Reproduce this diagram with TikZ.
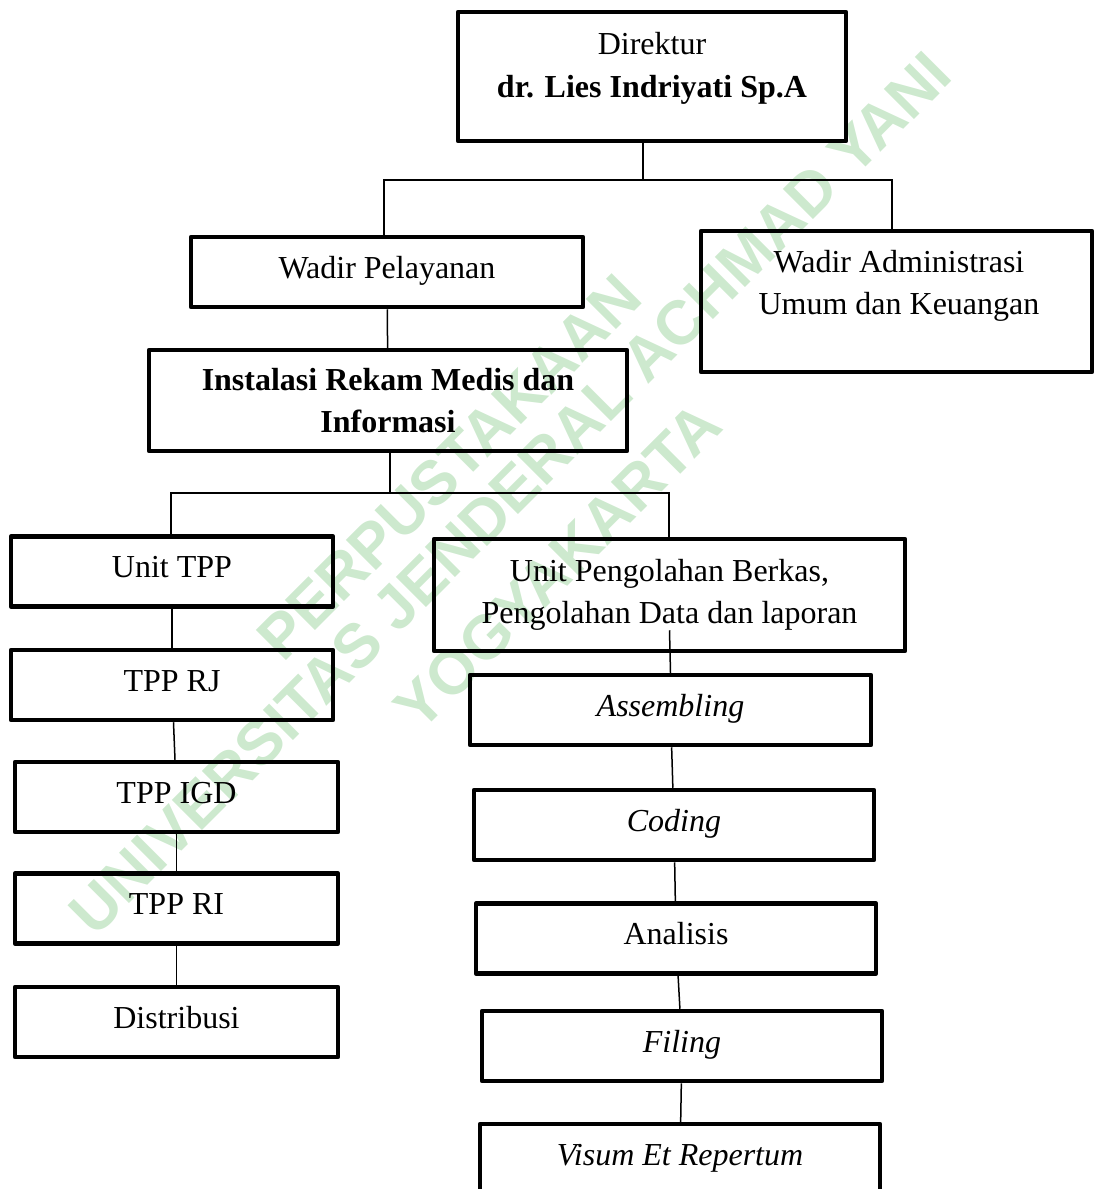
\documentclass[tikz,border=0pt]{standalone}
\usepackage{fontspec}
\setmainfont{Liberation Serif}
\newfontfamily\wmfont{Liberation Sans}
\usetikzlibrary{positioning}
\definecolor{wmgreen}{RGB}{205,233,206}

\begin{document}
\begin{tikzpicture}[x=1pt,y=-1pt,on grid,
   box/.style={draw,line width=4.5pt,line join=round,minimum height=70pt,inner sep=0pt,
     align=center,font=\fontsize{32}{41.5}\selectfont},
   single/.style={box,text height=22pt,text depth=10pt},
   link/.style={line width=1.5pt},
   wm/.style={text=wmgreen,rotate=45,inner sep=0pt,font=\wmfont\bfseries\fontsize{62}{70}\selectfont}]
 \useasboundingbox (0,0) rectangle (1094,1189);
 % watermark
 \node[wm] (wm1) at (449,467) {PERPUSTAKAAN};
 \node[wm] (wm2) at (510,493) {UNIVERSITAS JENDERAL ACHMAD YANI};
 \node[wm] (wm3) at (558,566) {YOGYAKARTA};
 % top levels
 \node[box,minimum width=388pt,minimum height=129pt] (dir) at (652,76.5) {};
 \node[align=center,font=\fontsize{32}{43}\selectfont] (dirtxt) at ([yshift=8.5pt]dir.center)
   {Direktur\\\textbf{dr. Lies Indriyati Sp.A}};
 \node[single,minimum width=392pt] (wpel) at (387,272) {Wadir Pelayanan};
 \node[box,minimum width=391pt,minimum height=141pt] (wadm) at (896.5,301.5) {};
 \node[align=center,font=\fontsize{32}{41.5}\selectfont] (wadmtxt) at ([xshift=2.5pt,yshift=15.5pt]wadm.center)
   {Wadir Administrasi\\Umum dan Keuangan};
 \node[box,minimum width=478pt,minimum height=101pt,font=\bfseries\fontsize{32}{41.5}\selectfont] (irm)
   at (388,400.5) {Instalasi Rekam Medis dan\\Informasi};
 % left column
 \node[single,minimum width=322pt] (utpp) at (172,571.5) {Unit TPP};
 \node[single,minimum width=322pt,below=113.5pt of utpp] (rj) {TPP RJ};
 \node[single,minimum width=323pt,below right=112pt and 4.5pt of rj] (igd) {TPP IGD};
 \node[single,minimum width=323pt,below=111.5pt of igd] (ri) {TPP RI};
 \node[single,minimum width=323pt,below=113.5pt of ri] (dist) {Distribusi};
 % right column
 \node[box,minimum width=471pt,minimum height=112pt] (upb) at (669.5,595)
   {Unit Pengolahan Berkas,\\Pengolahan Data dan laporan};
 \node[single,minimum width=401pt,below right=115pt and 1pt of upb] (asm) {\textit{Assembling}};
 \node[single,minimum width=400pt,below right=115pt and 3.5pt of asm] (cod) {\textit{Coding}};
 \node[single,minimum width=400pt,below right=113.5pt and 2pt of cod] (ana) {Analisis};
 \node[single,minimum width=400pt,below right=107.5pt and 6pt of ana] (fil) {\textit{Filing}};
 \node[single,minimum width=400pt,below left=113pt and 2pt of fil] (vis) {\textit{Visum Et Repertum}};
 % connectors
 \coordinate (j1) at (643,180);
 \coordinate (jl) at (384,180);
 \coordinate (jr) at (892,180);
 \draw[link] (dir.south -| j1) -- (j1);
 \draw[link] (wpel.north -| jl) |- (jr) -- (wadm.north -| jr);
 \draw[link] (wpel) -- (irm);
 \coordinate (j2) at (390,493);
 \coordinate (kl) at (171,493);
 \coordinate (kr) at (669,493);
 \draw[link] (irm.south -| j2) -- (j2);
 \draw[link] (utpp.north -| kl) |- (kr) -- (upb.north -| kr);
 \draw[link] (utpp) -- (rj);
 \draw[link] (rj) -- (igd);
 \draw[link] (igd) -- (ri);
 \draw[link] (ri) -- (dist);
 \coordinate (upbin) at ([yshift=23pt]upb.south);
 \draw[link] (upbin) -- (asm.north);
 \draw[link] (asm) -- (cod);
 \draw[link] (cod) -- (ana);
 \draw[link] (ana) -- (fil);
 \draw[link] (fil) -- (vis);
\end{tikzpicture}
\end{document}
